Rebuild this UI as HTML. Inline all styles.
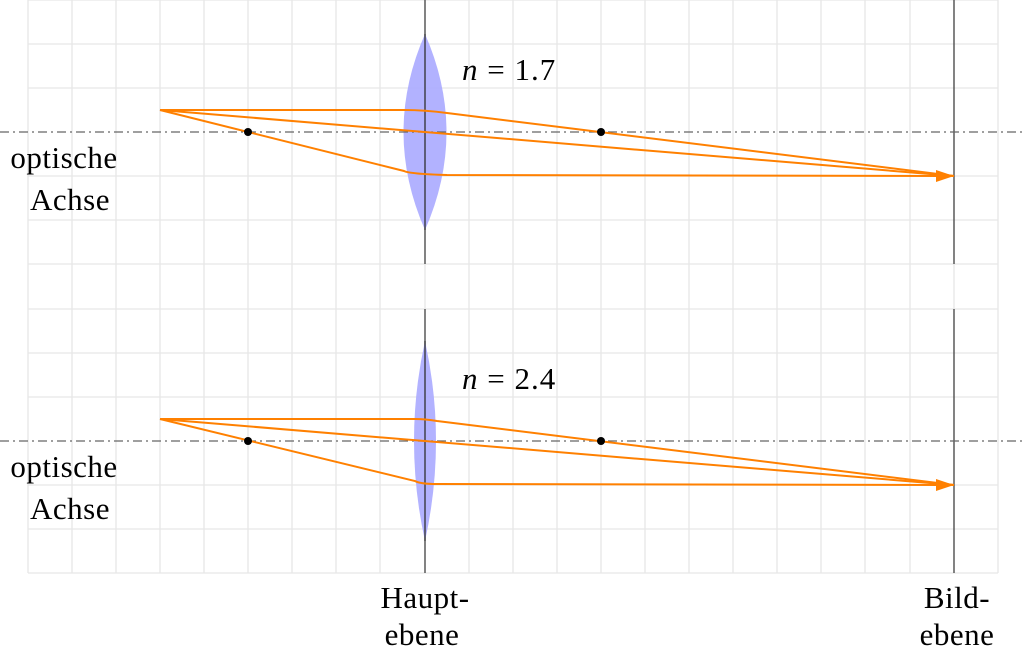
<!DOCTYPE html>
<html><head><meta charset="utf-8"><style>body{margin:0;background:#fff}</style></head><body>
<svg width="1024" height="655" viewBox="0 0 1024 655" xmlns="http://www.w3.org/2000/svg" font-family="Liberation Serif, serif">
<g stroke="#e6e6e6" stroke-width="1.3">
<path d="M28 0V573M72 0V573M116 0V573M160 0V573M204 0V573M248 0V573M292 0V573M336 0V573M380 0V573M425 0V573M469 0V573M513 0V573M557 0V573M601 0V573M645 0V573M689 0V573M733 0V573M777 0V573M821 0V573M865 0V573M910 0V573M954 0V573M998 0V573"/>
<path d="M28 0H998M28 44H998M28 88H998M28 176H998M28 220H998M28 264H998M28 309H998M28 353H998M28 397H998M28 485H998M28 529H998M28 573H998"/>
</g>
<g stroke="#444" stroke-width="1.3"><path d="M425 0V264M425 309V573M954 0V264M954 309V573"/></g>
<path d="M425 34Q382 132 425 230Q468 132 425 34Z" fill="#aaaaff" opacity="0.9"/>
<path d="M425 341Q403 441 425 541Q447 441 425 341Z" fill="#aaaaff" opacity="0.9"/>
<path d="M425 34V230M425 341V541" stroke="#333" stroke-width="1.3"/>
<g stroke="#666" stroke-width="1.3" stroke-dasharray="9,4,2,4" fill="none"><path d="M0 132H1024M0 441H1024"/></g>
<g stroke="#ff8000" stroke-width="2" fill="none">
<path d="M160 110H404Q425 110 447 113L954 176"/>
<path d="M160 110L954 176"/>
<path d="M160 110L404 171Q410 174 447 175L940 176"/>
<path d="M160 419H415Q425 419 437 421L954 485"/>
<path d="M160 419L954 485"/>
<path d="M160 419L415 481Q420 484 437 484L940 485"/>
</g>
<path d="M954 176L936 170L936 182Z M954 485L936 479L936 491Z" fill="#ff8000"/>
<g fill="#000"><circle cx="248" cy="132" r="4"/><circle cx="601" cy="132" r="4"/><circle cx="248" cy="441" r="4"/><circle cx="601" cy="441" r="4"/></g>
<g font-size="31" fill="#000">
<text x="462" y="80" letter-spacing="1"><tspan font-style="italic">n</tspan> = 1.7</text>
<text x="462" y="389" letter-spacing="1"><tspan font-style="italic">n</tspan> = 2.4</text>
<g text-anchor="middle" letter-spacing="0.5">
<text x="64" y="168">optische</text><text x="70" y="210">Achse</text>
<text x="64" y="477">optische</text><text x="70" y="519">Achse</text>
<text x="425" y="608">Haupt-</text><text x="422" y="645">ebene</text>
<text x="957" y="608">Bild-</text><text x="957" y="645">ebene</text>
</g></g>
</svg>
</body></html>
